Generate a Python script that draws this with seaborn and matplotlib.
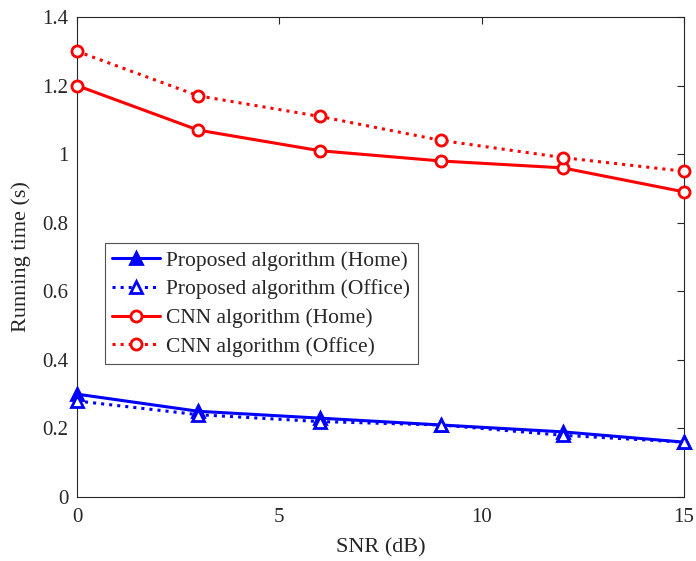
import matplotlib
matplotlib.use("Agg")
import matplotlib.pyplot as plt
import seaborn as sns
import pandas as pd

snr = [0, 3, 6, 9, 12, 15]
proposed_home = [0.30, 0.25, 0.23, 0.21, 0.19, 0.16]
proposed_office = [0.28, 0.24, 0.22, 0.21, 0.18, 0.16]
cnn_home = [1.20, 1.07, 1.01, 0.98, 0.96, 0.89]
cnn_office = [1.30, 1.17, 1.11, 1.04, 0.99, 0.95]
labels = ["Proposed algorithm (Home)", "Proposed algorithm (Office)",
          "CNN algorithm (Home)", "CNN algorithm (Office)"]

sns.set_style("white")
plt.rcParams['font.family'] = ['Liberation Serif', 'DejaVu Serif']
plt.rcParams['mathtext.fontset'] = 'stix'

fig = plt.figure(figsize=(6.96, 5.61), dpi=100)
ax = fig.add_axes([0.1106, 0.1141, 0.8722, 0.8556])

series = [proposed_home, proposed_office, cnn_home, cnn_office]
styles = [
    dict(color='#0000ff', linestyle='-', marker='^', markerfacecolor='#0000ff'),
    dict(color='#0000ff', linestyle=':', marker='^', markerfacecolor='white'),
    dict(color='#ff0000', linestyle='-', marker='o', markerfacecolor='white'),
    dict(color='#ff0000', linestyle=':', marker='o', markerfacecolor='white'),
]
for vals, lab, st in zip(series, labels, styles):
    df = pd.DataFrame({'SNR': snr, 'Time': vals})
    sns.lineplot(data=df, x='SNR', y='Time', ax=ax, label=lab,
                 color=st['color'], linestyle=st['linestyle'], marker=st['marker'],
                 markerfacecolor=st['markerfacecolor'], markeredgecolor=st['color'],
                 markeredgewidth=2, markersize=8, linewidth=2.2, clip_on=False, zorder=3)

ax.set_xlim(0, 15)
ax.set_ylim(0, 1.4)
ax.set_xticks([0, 5, 10, 15])
ax.set_yticks([0, 0.2, 0.4, 0.6, 0.8, 1.0, 1.2, 1.4])
ax.set_yticklabels(['0', '0.2', '0.4', '0.6', '0.8', '1', '1.2', '1.4'])
ax.set_xlabel('SNR (dB)', fontsize=16, color='#262626', labelpad=8)
ax.set_ylabel('Running time (s)', fontsize=16, color='#262626', labelpad=8)
ax.tick_params(direction='in', length=5, width=0.8, top=True, right=True,
               labelsize=15, colors='#262626')
ax.tick_params(axis='x', pad=8)
ax.tick_params(axis='y', pad=6)
for sp in ax.spines.values():
    sp.set_visible(True)
    sp.set_color('#262626')
    sp.set_linewidth(0.8)

leg = ax.legend(loc='upper left', bbox_to_anchor=(0.046, 0.529), borderaxespad=0,
                fontsize=15.5, frameon=True, fancybox=False, edgecolor='#262626',
                handlelength=2.2, handletextpad=0.3, borderpad=0.35, labelspacing=0.4)
leg.get_frame().set_linewidth(0.8)

fig.savefig('out.png', dpi=100)
